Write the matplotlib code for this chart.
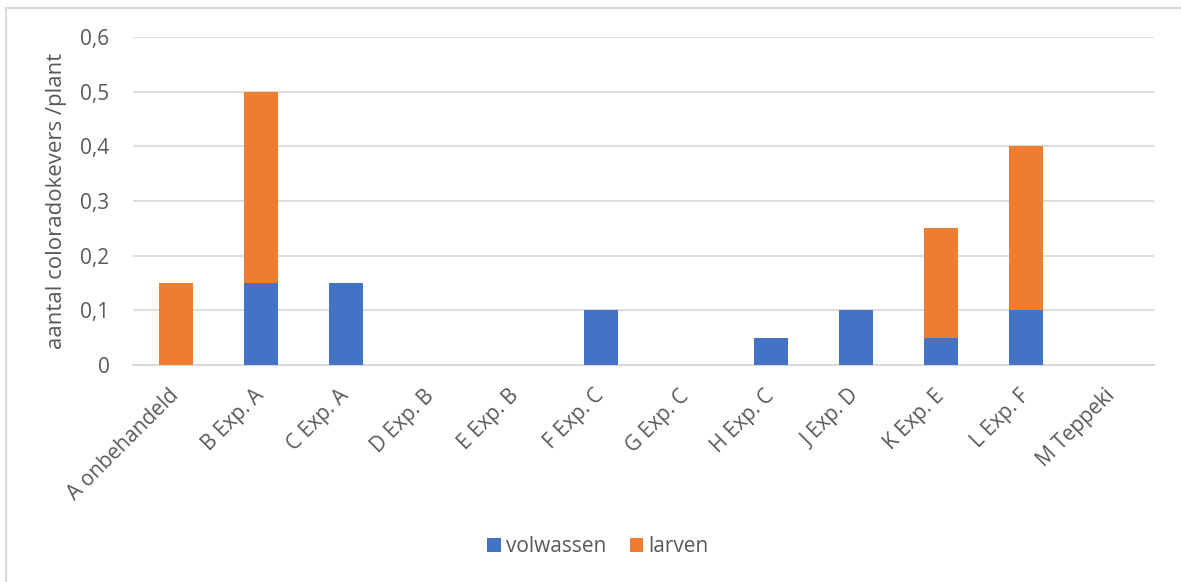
import numpy as np
import matplotlib.pyplot as plt
from matplotlib.patches import Rectangle

categories = ["A onbehandeld", "B Exp. A", "C Exp. A", "D Exp. B", "E Exp. B",
              "F Exp. C", "G Exp. C", "H Exp. C", "J Exp. D", "K Exp. E",
              "L Exp. F", "M Teppeki"]
volwassen = [0, 0.15, 0.15, 0, 0, 0.1, 0, 0.05, 0.1, 0.05, 0.1, 0]
larven = [0.15, 0.35, 0, 0, 0, 0, 0, 0, 0, 0.2, 0.3, 0]
yticks = [0, 0.1, 0.2, 0.3, 0.4, 0.5, 0.6]
ytick_labels = ["0", "0,1", "0,2", "0,3", "0,4", "0,5", "0,6"]

plt.rcParams['font.family'] = ['Open Sans', 'DejaVu Sans']
txt = "#595959"
grid = "#D9D9D9"

fig = plt.figure(figsize=(11.81, 5.82), dpi=100)
ax = fig.add_axes([133/1181, 1-365/582, (1154-133)/1181, (365-37)/582])

x = np.arange(len(categories))
ax.bar(x, volwassen, width=0.4, color="#4472C4", label="volwassen", zorder=3)
ax.bar(x, larven, width=0.4, bottom=volwassen, color="#ED7D31", label="larven", zorder=3)

ax.set_xlim(-0.5, len(categories) - 0.5)
ax.set_ylim(0, 0.6)
ax.set_yticks(yticks)
ax.set_yticklabels(ytick_labels, fontsize=15, color=txt)
ax.yaxis.grid(True, color=grid, linewidth=1.3, zorder=0)
ax.tick_params(axis='both', length=0)
ax.tick_params(axis='y', pad=17)
ax.set_xticks(x)
ax.set_xticklabels(categories, rotation=45, ha='right', va='center',
                   rotation_mode='anchor', fontsize=15, color=txt)
ax.tick_params(axis='x', pad=20)
for s in ["top", "right", "left"]:
    ax.spines[s].set_visible(False)
ax.spines["bottom"].set_color(grid)
ax.spines["bottom"].set_linewidth(1.5)

ax.set_ylabel("aantal coloradokevers /plant", fontsize=16, color=txt)
ax.yaxis.set_label_coords(-66/1021, 0.5)

fig.legend(loc='center', bbox_to_anchor=(598/1181, 1-547/582), ncol=2, frameon=False,
           fontsize=15, labelcolor=txt, handlelength=0.67, handleheight=0.67,
           handletextpad=0.25, columnspacing=1.1)

# chart border (light grey)
fig.patches.append(Rectangle((6/1181, -0.01), 1.2, (582-8)/582 + 0.01, transform=fig.transFigure,
                             fill=False, edgecolor=grid, linewidth=1.5))

fig.savefig("out.png", dpi=100)
